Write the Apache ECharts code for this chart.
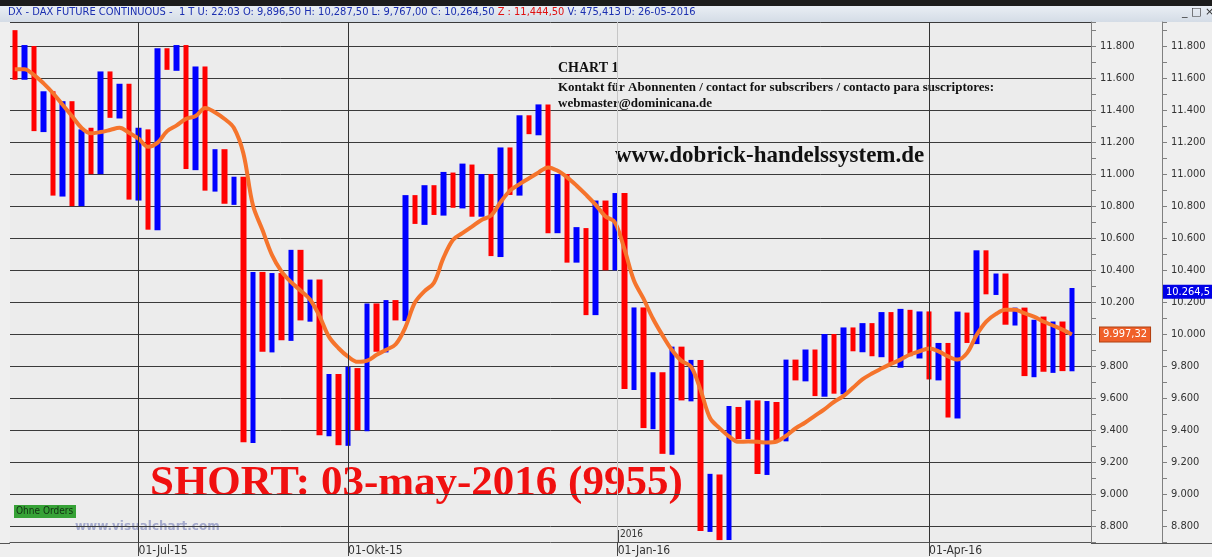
<!DOCTYPE html>
<html>
<head>
<meta charset="utf-8">
<script src="https://cdn.jsdelivr.net/npm/echarts@6/dist/echarts.min.js"></script>
<style>
  html, body { margin: 0; padding: 0; background: #efefef; }
  #chart { width: 1212px; height: 557px; }
</style>
</head>
<body>
<div id="chart"></div>
<script>
// swing legs: each bar runs from legStart to legEnd (red = down, blue = up)
const legStart = [
  11899, 11589, 11800, 11262, 11517, 10859, 11455, 10799, 11289, 10999,
  11641, 11347, 11564, 10834, 11279, 10648, 11786, 11645, 11806, 11024,
  11672, 10890, 11155, 10807, 10983, 9319, 10388, 9885, 10381, 9957,
  10526, 10077, 10340, 9361, 9750, 9301, 9787, 9392, 10191, 9885,
  10212, 10081, 10868, 10682, 10930, 10740, 11009, 10785, 11059, 10733,
  11000, 10481, 11166, 10865, 11367, 11242, 11435, 10630, 11000, 10446,
  10662, 10118, 10834, 10398, 10881, 9650, 10166, 9405, 9761, 9245,
  9921, 9579, 9838, 8763, 9122, 8712, 9544, 9343, 9585, 9119,
  9575, 9329, 9840, 9704, 9903, 9608, 10000, 9623, 10041, 9886,
  10068, 9855, 10137, 9789, 10151, 9847, 10141, 9710, 9944, 9472,
  10134, 9937, 10523, 10244, 10378, 10053, 10165, 9730, 10109, 9757,
  10078, 9767
];
const legEnd = [
  11589, 11806, 11268, 11517, 10865, 11455, 10799, 11279, 10999, 11641,
  11351, 11564, 10840, 11289, 10652, 11786, 11651, 11806, 11031, 11672,
  10896, 11155, 10814, 10983, 9324, 10388, 9889, 10381, 9961, 10526,
  10085, 10340, 9367, 9750, 9305, 9796, 9398, 10191, 9889, 10212,
  10085, 10868, 10688, 10930, 10744, 11013, 10789, 11065, 10733, 11000,
  10487, 11166, 10869, 11367, 11249, 11435, 10630, 11000, 10446, 10668,
  10118, 10834, 10398, 10881, 9657, 10166, 9412, 9761, 9251, 9921,
  9585, 9838, 8769, 9126, 8712, 9550, 9343, 9585, 9125, 9581,
  9329, 9840, 9710, 9903, 9612, 10000, 9627, 10041, 9892, 10068,
  9861, 10137, 9809, 10157, 9861, 10141, 9716, 9944, 9478, 10140,
  9944, 10523, 10248, 10378, 10058, 10165, 9737, 10089, 9764, 10078,
  9768, 10287.5
];
const maLine = [
  11655, 11655, 11620, 11568, 11506, 11434, 11362, 11289, 11254, 11262,
  11275, 11289, 11258, 11221, 11170, 11196, 11268, 11304, 11345, 11362,
  11413, 11386, 11345, 11289, 11130, 10806, 10651, 10495, 10392, 10325,
  10272, 10216, 10112, 9982, 9911, 9858, 9826, 9833, 9870, 9901,
  9936, 10040, 10195, 10267, 10319, 10474, 10588, 10630, 10671, 10713,
  10740, 10823, 10896, 10937, 10973, 11010, 11041, 11020, 10979, 10927,
  10869, 10807, 10736, 10699, 10533, 10336, 10222, 10097, 9993, 9900,
  9832, 9796, 9651, 9475, 9412, 9360, 9326, 9328, 9326, 9322,
  9328, 9364, 9411, 9447, 9488, 9529, 9575, 9612, 9664, 9716,
  9753, 9784, 9813, 9840, 9872, 9892, 9909, 9892, 9860, 9840,
  9882, 9995, 10078, 10124, 10151, 10151, 10130, 10109, 10078, 10053,
  10027, 9997.32
];
const dateTicks = [13, 35, 63.3, 96];
const dateLabels = ['01-Jul-15', '01-Okt-15', '01-Jan-16', '01-Apr-16'];
const lastMa = 9997.32;
const lastClose = 10264.5;

const chart = echarts.init(document.getElementById('chart'));

const candles = legStart.map((s, i) => {
  const e = legEnd[i];
  return [i, s, e, Math.min(s, e), Math.max(s, e)];
});
const maData = maLine.map((v, i) => [i, v]);

const priceLabel = v => (v / 1000).toFixed(3);
const axisFont = "'Liberation Sans Narrow', 'DejaVu Sans Condensed', sans-serif";
const serif = "'Liberation Serif', 'DejaVu Serif', serif";

function rightAxis(offset) {
  return {
    type: 'value',
    position: 'right',
    offset: offset,
    min: 8700,
    max: 11950,
    interval: 100,
    axisLine: { show: true, onZero: false, lineStyle: { color: '#808080', width: 1 } },
    axisTick: { show: true, inside: false, length: 5, lineStyle: { color: '#808080' } },
    axisLabel: {
      color: '#333', fontSize: 11, fontFamily: axisFont, margin: 9,
      formatter: v => (v % 200 === 0 ? priceLabel(v) : '')
    },
    splitLine: { show: false }
  };
}

const yMain = rightAxis(0);
yMain.splitLine = {
  show: true,
  lineStyle: { color: ['rgba(0,0,0,0)', '#3a3a3a'], width: 1 }
};

const option = {
  animation: false,
  backgroundColor: '#efefef',
  grid: {
    left: 10, right: 121, top: 22, bottom: 14,
    show: true, backgroundColor: '#ececec', borderWidth: 0
  },
  xAxis: {
    type: 'value',
    min: -0.5,
    max: 113,
    axisLine: { show: true, onZero: false, lineStyle: { color: '#555' } },
    axisTick: { show: true, customValues: dateTicks, length: 14, lineStyle: { color: '#444' } },
    minorTick: { show: false },
    splitLine: { show: false },
    axisLabel: {
      customValues: dateTicks,
      align: 'left', margin: 3, color: '#333', fontSize: 12, fontFamily: axisFont,
      formatter: v => {
        const k = dateTicks.indexOf(v);
        return k >= 0 ? dateLabels[k] : '';
      }
    }
  },
  yAxis: [yMain, rightAxis(71)],
  series: [
    {
      // vertical date grid lines, kept under the bars
      type: 'line',
      data: [],
      z: 1,
      silent: true,
      markLine: {
        silent: true,
        symbol: ['none', 'none'],
        label: { show: false },
        data: dateTicks.map((x, i) => ({
          xAxis: x,
          lineStyle: { color: i === 2 ? '#c6c6c6' : '#333', width: 1, type: 'solid' }
        }))
      }
    },
    {
      type: 'candlestick',
      data: candles,
      encode: { x: 0, y: [1, 2, 3, 4] },
      barWidth: 6,
      z: 3,
      itemStyle: {
        color: '#0000ff', color0: '#ff0000',
        borderColor: '#0000ff', borderColor0: '#ff0000', borderWidth: 0
      }
    },
    {
      type: 'line',
      data: maData,
      z: 4,
      smooth: 0.35,
      showSymbol: false,
      lineStyle: { color: '#f5742c', width: 4 },
      markLine: {
        silent: true,
        symbol: ['none', 'none'],
        lineStyle: { color: 'rgba(0,0,0,0)', width: 0 },
        data: [
          {
            yAxis: lastMa,
            label: {
              show: true, position: 'end', distance: 9,
              formatter: '9.997,32', color: '#fff', fontSize: 11, fontFamily: axisFont,
              backgroundColor: '#f0602a', borderColor: '#b04010', borderWidth: 1, padding: [2, 3, 1, 3]
            }
          },
          {
            yAxis: lastClose,
            label: {
              show: true, position: 'end', distance: 72,
              formatter: '10.264,5', color: '#fff', fontSize: 11, fontFamily: axisFont,
              backgroundColor: '#0000e6', padding: [2, 3, 1, 3]
            }
          }
        ]
      }
    }
  ],
  graphic: [
    { type: 'rect', shape: { x: 0, y: 0, width: 1212, height: 6 }, style: { fill: '#1c1c1c' } },
    {
      type: 'rect', shape: { x: 0, y: 6, width: 1212, height: 16 },
      style: {
        fill: new echarts.graphic.LinearGradient(0, 0, 0, 1, [
          { offset: 0, color: '#e9eef4' }, { offset: 1, color: '#d4dce6' }
        ])
      }
    },
    {
      type: 'text', left: 8, top: 7,
      style: {
        text: '{b|DX - DAX FUTURE CONTINUOUS -  1 T U: 22:03 O: 9,896,50 H: 10,287,50 L: 9,767,00 C: 10,264,50 }{r|Z : 11,444,50 }{b|V: 475,413 D: 26-05-2016}',
        rich: {
          b: { fill: '#1b2fb0', fontSize: 11, fontFamily: "'DejaVu Sans Condensed', sans-serif" },
          r: { fill: '#e01010', fontSize: 11, fontFamily: "'DejaVu Sans Condensed', sans-serif" }
        }
      }
    },
    {
      type: 'text', left: 1182, top: 7,
      style: { text: '_ □ ×', fill: '#333', fontSize: 11, fontFamily: 'DejaVu Sans' }
    },
    {
      type: 'text', left: 558, top: 61,
      style: { text: 'CHART 1', fill: '#111', font: 'bold 14px ' + serif }
    },
    {
      type: 'text', left: 558, top: 81,
      style: {
        text: 'Kontakt für Abonnenten / contact for subscribers / contacto para suscriptores:',
        fill: '#111', font: 'bold 13px ' + serif
      }
    },
    {
      type: 'text', left: 558, top: 97,
      style: { text: 'webmaster@dominicana.de', fill: '#111', font: 'bold 13px ' + serif }
    },
    {
      type: 'text', left: 615, top: 145,
      style: { text: 'www.dobrick-handelssystem.de', fill: '#111', font: 'bold 23px ' + serif }
    },
    {
      type: 'text', left: 150, top: 462,
      style: { text: 'SHORT: 03-may-2016 (9955)', fill: '#f01010', font: 'bold 43px ' + serif }
    },
    { type: 'rect', shape: { x: 14, y: 505, width: 62, height: 13 }, style: { fill: '#36a236' } },
    {
      type: 'text', left: 16, top: 506,
      style: { text: 'Ohne Orders', fill: '#123012', fontSize: 10, fontFamily: "'DejaVu Sans Condensed', sans-serif" }
    },
    {
      type: 'text', left: 75, top: 521,
      style: { text: 'www.visualchart.com', fill: '#a4a9cc', font: 'bold 12px ' + "'DejaVu Sans', sans-serif" }
    },
    { type: 'line', shape: { x1: 618.5, y1: 530, x2: 618.5, y2: 543 }, style: { stroke: '#444', lineWidth: 1 } },
    {
      type: 'text', left: 620, top: 529,
      style: { text: '2016', fill: '#333', fontSize: 10, fontFamily: axisFont }
    },
    { type: 'line', shape: { x1: 0, y1: 543.5, x2: 10, y2: 543.5 }, style: { stroke: '#555', lineWidth: 1 } },
    { type: 'line', shape: { x1: 1091, y1: 543.5, x2: 1212, y2: 543.5 }, style: { stroke: '#555', lineWidth: 1 } }
  ]
};

chart.setOption(option);
window.onresize = () => {
  chart.resize();
};
</script>
</body>
</html>
